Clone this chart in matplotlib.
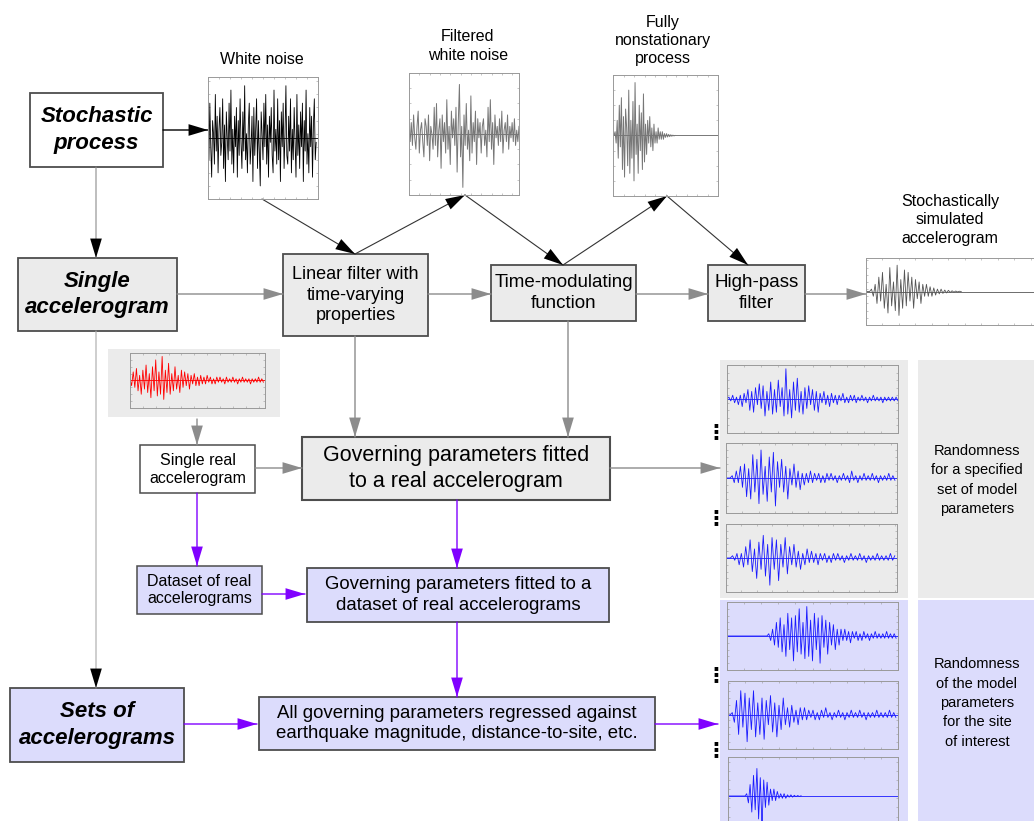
import matplotlib.pyplot as plt
from matplotlib.patches import Rectangle
from matplotlib import font_manager

W, H = 1034, 821

## waveform samples (arbitrary amplitude units)
white_noise = [3, -5, 8, -2, -9, 4, 1, -6, 10, -3, 5, -8, 2, 7, -4, -1, 9, -7, 3, -10, 6, 0, -5, 8, -3, 11, -6, 2,
               -8, 5, -2, 7, -9, 4, -4, 9, -1, -7, 6, -3, 12, -5, 1, -8, 3, 8, -6, -2, 5, -10, 7, -4, 2, 9, -7, 4,
               -3, -11, 6, 1, -5, 8, -2, 10, -6, 3, -9, 5, -1, 7, -4, -8, 11, -3, 2, -6, 9, -5, 4, -10, 6, -2, 8,
               -7, 1, 12, -4, -6, 5, -3, 9, -8, 2, -5, 7, -1, -9, 10, -4, 3, -7, 6, -2, 8, -10, 4, -3, 11, -6, 1,
               -8, 7, -2, 5, -9, 3, 9, -5, -1]
filtered_noise = [1, -2, 3, -3, 5, -1, -4, 2, 6, -5, 1, 3, -2, -6, 4, 2, -3, 5, -7, 2, 0, -4, 7, -3, 8, -6, 1, 4,
                  -9, 5, -2, 3, -5, 9, -4, 2, -8, 6, -1, 4, -3, 7, -10, 3, 13, -6, 2, -14, 5, -3, 8, -4, 1, -7,
                  10, -5, 3, -2, 6, -8, 4, -1, 3, -5, 2, 4, -3, 1, -6, 7, -2, 9, -4, 3, -8, 5, -1, 2, -3, 4, -2,
                  6, -5, 1, 3, -2, 5, -4, 2, -1, 3, -2, 4, -3, 1, -2, 2]
nonstationary = [0, 0, 1, -2, 4, -6, 8, -3, 10, -9, 5, -11, 7, 2, -8, 12, -10, 4, -6, 9, -12, 14, -5, 3, -10, 8,
                 -4, 6, -9, 11, -7, 3, -5, 4, -2, 5, -3, 2, -4, 3, -2, 1, -2, 2, -1, 1, -1, 1, -1, 0.5, -0.5, 0.5,
                 -0.4, 0.3, -0.3, 0.2, -0.2, 0.1, -0.1, 0]
simulated = [0, 0, 0, 1, -2, 3, -5, 6, -4, 8, -7, 3, -9, 10, -6, 4, -8, 11, -10, 5, -7, 9, -6, 8, -4, 6, -7, 5,
             -3, 4, -5, 3, -2, 3, -2, 2, -2, 1.5, -1.5, 1, -1, 1, -0.8, 0.6, -0.6, 0.5, -0.4, 0.3, -0.3, 0.2,
             -0.2, 0.1, 0]
real_record = [1, -3, 5, -4, 7, -6, 3, -8, 6, -5, 9, -7, 4, -10, 8, -6, 12, -9, 5, -8, 14, -11, 6, -7, 10, -8, 4,
               -6, 8, -5, 3, -7, 6, -4, 5, -3, 4, -5, 3, -2, 4, -3, 2, -3, 3, -2, 2, -2, 3, -1, 2, -2, 1, -2, 2,
               -1, 2, -1, 1, -2, 2, -1, 1, -1, 2, -1, 1, -2, 1, -1, 2, -1, 1, -1, 1, -2, 1, -1, 1, -1, 2, -1, 1,
               -1]
blue_fixed_1 = [0, 1, -1, 2, -2, 1, -3, 2, -4, 3, -2, 5, -6, 4, -7, 6, -3, 8, -5, 7, -9, 4, -6, 9, -8, 5, -7, 10,
                -4, 6, -9, 16, -8, 5, -10, 9, -6, 11, -7, 4, -8, 6, -5, 7, -3, 5, -6, 4, -7, 3, -2, 4, -3, 2, -4,
                3, -2, 2, -3, 2, -1, 3, -2, 1, -2, 2, -1, 2, -2, 1, -1, 2, -1, 1, -2, 1, -1, 2, -1, 1, -1, 1, -2,
                1, -1, 1, -1, 1, -1, 1, -1, 1]
blue_fixed_2 = [0, 0, 0, 1, -2, 3, -2, 5, -4, 6, -8, 4, -9, 10, -6, 8, -11, 12, -7, 5, -10, 9, -6, 11, -12, 7, -4,
                8, -6, 5, -9, 4, -3, 6, -4, 3, -5, 2, -3, 2, -2, 3, -2, 2, -1, 2, -2, 1, -2, 2, -1, 2, -1, 1, -2,
                1, -1, 2, -1, 1, -2, 3, -1, 1, -2, 1, -1, 2, -1, 1, -1, 2, -1, 1, -2, 1, -1, 1, -1, 2, -1, 1, -1]
blue_fixed_3 = [0, 0, 0, 1, -1, 2, -3, 2, -4, 5, -3, 8, -6, 4, -9, 7, -5, 10, -8, 6, -12, 9, -5, 8, -10, 6, -4, 9,
                -7, 5, -3, 6, -4, 3, -5, 2, -3, 4, -2, 3, -2, 2, -3, 2, -1, 2, -2, 1, -2, 2, -1, 2, -1, 1, -2, 1,
                -1, 2, -1, 1, -1, 2, -1, 1, -2, 1, -1, 1, -1, 2, -1, 1, -1, 1, -1, 2, -1, 1]
blue_site_1 = [0, 0, 0, 0, 0, 0, 0, 0, 0, 0, 0, 0, 0, 0, 0, 0, 0, 0, 0, 0, 0, 0, 1, -2, 3, -4, 6, -5, 8, -7, 5, -9,
               10, -6, 8, -11, 9, -7, 12, -8, 6, -10, 13, -9, 7, -11, 10, -6, 8, -12, 9, -5, 7, -8, 6, -4, 5, -6,
               3, -4, 3, -2, 3, -2, 2, -3, 2, -1, 2, -2, 1, -2, 2, -1, 1, -2, 1, -1, 2, -1, 1, -1, 1, -1, 2, -1,
               1, -1, 1, -1]
blue_site_2 = [0, 0, 1, -3, 6, -8, 10, -5, 9, -11, 7, -6, 10, -9, 5, -8, 7, -10, 6, -4, 8, -7, 5, -9, 4, -6, 7, -4,
               3, -5, 4, -3, 2, -4, 3, -2, 3, -2, 2, -1, 2, -2, 1, -2, 2, -1, 3, -1, 1, -2, 1, -1, 2, -1, 1, -2, 1,
               -1, 2, -1, 1, -1, 2, -1, 1, -2, 1, -1, 1, -1, 2, -1, 1, -1, 1, -1, 2, -1, 1, -1]
blue_site_3 = [0, 0, 0, 0, 0, 0, 0, 0, 0, 0, 0, 1, -3, 5, -7, 9, -6, 12, -10, 8, -13, 7, -5, 6, -4, 3, -2, 3, -2,
               2, -1, 1, -1, 1, -1, 0.5, -0.5, 0.5, -0.5, 0.3, -0.3, 0.2, -0.2, 0.1]

## text labels
top_titles = ["White noise", "Filtered\nwhite noise", "Fully\nnonstationary\nprocess",
              "Stochastically\nsimulated\naccelerogram"]
panel_texts = ["Randomness\nfor a specified\nset of model\nparameters",
               "Randomness\nof the model\nparameters\nfor the site\nof interest"]

names = {f.name for f in font_manager.fontManager.ttflist}
sans = "Liberation Sans" if "Liberation Sans" in names else "DejaVu Sans"
narrow = "Liberation Sans Narrow" if "Liberation Sans Narrow" in names else sans
plt.rcParams["font.family"] = sans

GRAY = "#ebebeb"
LAV = "#dcdcfc"
EDGE = "#4d4d4d"
ARR = "#8c8c8c"
PURP = "#8000ff"
BLUE = "#1a1aff"

fig = plt.figure(figsize=(W / 100, H / 100), dpi=100)
ax = fig.add_axes([0, 0, 1, 1])
ax.set_xlim(0, W)
ax.set_ylim(H, 0)
ax.axis("off")


def box(x0, y0, x1, y1, text, fc="white", size=10.5, bold=False, family=None, lw=1.3, ls=1.3):
    ax.add_patch(Rectangle((x0, y0), x1 - x0, y1 - y0, fc=fc, ec=EDGE, lw=lw, zorder=2))
    ax.text((x0 + x1) / 2, (y0 + y1) / 2, text, ha="center", va="center", fontsize=size,
            fontweight="bold" if bold else "normal", style="italic" if bold else "normal",
            family=family or sans, linespacing=ls, zorder=3)


def arrow(p0, p1, color=ARR, head=None, lw=1.0):
    ax.annotate("", xy=p1, xytext=p0,
                arrowprops=dict(arrowstyle="-", color=color, lw=lw, shrinkA=0, shrinkB=0))
    ax.annotate("", xy=p1, xytext=p0,
                arrowprops=dict(arrowstyle="-|>,head_length=1.0,head_width=0.3", color=head or color,
                                lw=0, shrinkA=0, shrinkB=0, mutation_scale=14))


def inset(x0, y0, x1, y1, y, color, dur, lw=0.5, amp=15):
    a = fig.add_axes([x0 / W, 1 - y1 / H, (x1 - x0) / W, (y1 - y0) / H])
    a.set_facecolor("none")
    a.axhline(0, color=color, lw=lw)
    a.plot(range(len(y)), y, color=color, lw=lw)
    a.set_xlim(0, dur)
    a.set_ylim(-amp, amp)
    a.set_xticks(range(0, dur + 1, max(dur // 10, 1)))
    a.set_yticks(range(-amp, amp + 1, max(amp // 4, 1)))
    a.tick_params(direction="in", length=1.5, width=0.4, color="#999999", labelbottom=False,
                  labelleft=False, top=True, right=True)
    for s in a.spines.values():
        s.set_color("#999999")
        s.set_linewidth(0.7)
    return a


## background panels on the right
ax.add_patch(Rectangle((720, 360), 188, 238, fc=GRAY, ec="none"))
ax.add_patch(Rectangle((918, 360), 116, 238, fc=GRAY, ec="none"))
ax.add_patch(Rectangle((720, 600), 188, 221, fc=LAV, ec="none"))
ax.add_patch(Rectangle((918, 600), 116, 221, fc=LAV, ec="none"))
ax.add_patch(Rectangle((108, 349), 172, 68, fc=GRAY, ec="none"))

ax.text(977, 480, panel_texts[0], ha="center", va="center", fontsize=10.5, linespacing=1.5)
ax.text(977, 703, panel_texts[1], ha="center", va="center", fontsize=10.5, linespacing=1.5)

## titles over the top insets
ax.text(262, 60, top_titles[0], ha="center", va="center", fontsize=11.5)
ax.text(468, 46, top_titles[1], ha="center", va="center", fontsize=11.5, linespacing=1.3)
ax.text(663, 40, top_titles[2], ha="center", va="center", fontsize=11.5, linespacing=1.25)
ax.text(950, 220, top_titles[3], ha="center", va="center", fontsize=11.5, linespacing=1.3)

## boxes
box(30, 93, 163, 167, "Stochastic\nprocess", size=16, bold=True, ls=1.35)
box(18, 258, 177, 331, "Single\naccelerogram", fc=GRAY, size=16, bold=True, ls=1.35)
box(283, 254, 428, 336, "Linear filter with\ntime-varying\nproperties", fc=GRAY, size=13, ls=1.25)
box(491, 265, 636, 321, "Time-modulating\nfunction", fc=GRAY, size=13.5, ls=1.25)
box(708, 265, 805, 321, "High-pass\nfilter", fc=GRAY, size=13.5, ls=1.25)
box(140, 445, 255, 493, "Single real\naccelerogram", size=11.5, family=narrow, lw=1.1, ls=1.25)
box(302, 437, 610, 500, "Governing parameters fitted\nto a real accelerogram", fc=GRAY, size=15.5,
    family=narrow, lw=1.5, ls=1.25)
box(137, 566, 262, 614, "Dataset of real\naccelerograms", fc=LAV, size=11.5, family=narrow, lw=1.1, ls=1.25)
box(307, 568, 609, 622, "Governing parameters fitted to a\ndataset of real accelerograms", fc=LAV,
    size=13.4, family=narrow, ls=1.25)
box(10, 688, 184, 762, "Sets of\naccelerograms", fc=LAV, size=16, bold=True, family=narrow, ls=1.35)
box(259, 697, 655, 750, "All governing parameters regressed against\nearthquake magnitude, distance-to-site, etc.",
    fc=LAV, size=13.4, family=narrow, ls=1.2)

## arrows of the simulation chain
arrow((163, 130), (208, 130), color="black")
arrow((96, 167), (96, 258), head="black", lw=0.8)
arrow((262, 199), (355, 254), color="#333333", head="black", lw=0.8)
arrow((355, 254), (465, 195), color="#333333", head="black", lw=0.8)
arrow((465, 195), (563, 265), color="#333333", head="black", lw=0.8)
arrow((563, 265), (667, 196), color="#333333", head="black", lw=0.8)
arrow((667, 196), (748, 265), color="#333333", head="black", lw=0.8)
arrow((177, 294), (283, 294))
arrow((428, 294), (491, 294))
arrow((636, 294), (708, 294))
arrow((805, 294), (866, 294))
arrow((355, 336), (355, 437))
arrow((568, 321), (568, 437))
arrow((197, 419), (197, 445))
arrow((255, 468), (302, 468))
arrow((610, 468), (720, 468))
arrow((96, 331), (96, 688), color="#aaaaaa", head="black", lw=0.8)

## purple arrows
arrow((197, 493), (197, 566), color=PURP)
arrow((457, 500), (457, 568), color=PURP)
arrow((262, 594), (305, 594), color=PURP)
arrow((457, 622), (457, 697), color=PURP)
arrow((184, 724), (257, 724), color=PURP)
arrow((655, 724), (718, 724), color=PURP)

## vertical ellipsis between the records
for yd in [432, 518, 675, 750]:
    ax.text(716, yd, "⋮", ha="center", va="center", fontsize=15, fontweight="bold", family="DejaVu Sans")

## waveform insets
inset(208, 77, 318, 199, white_noise, "black", 120, lw=0.6, amp=14)
inset(409, 73, 519, 195, filtered_noise, "#777777", 96, lw=0.7, amp=16)
inset(613, 75, 718, 196, nonstationary, "#777777", 100, lw=0.7, amp=16)
inset(866, 258, 1040, 325, simulated, "#555555", 95, lw=0.6, amp=14)
inset(130, 353, 265, 408, real_record, "red", 84, lw=0.6, amp=16)
inset(727, 365, 898, 433, blue_fixed_1, BLUE, 90, lw=0.6, amp=18)
inset(726, 443, 897, 513, blue_fixed_2, BLUE, 83, lw=0.6, amp=15)
inset(726, 524, 897, 592, blue_fixed_3, BLUE, 78, lw=0.6, amp=15)
inset(727, 602, 898, 670, blue_site_1, BLUE, 90, lw=0.6, amp=15)
inset(728, 681, 898, 749, blue_site_2, BLUE, 80, lw=0.6, amp=14)
inset(728, 757, 898, 835, blue_site_3, BLUE, 100, lw=0.6, amp=17)

fig.savefig("out.png", dpi=100)
